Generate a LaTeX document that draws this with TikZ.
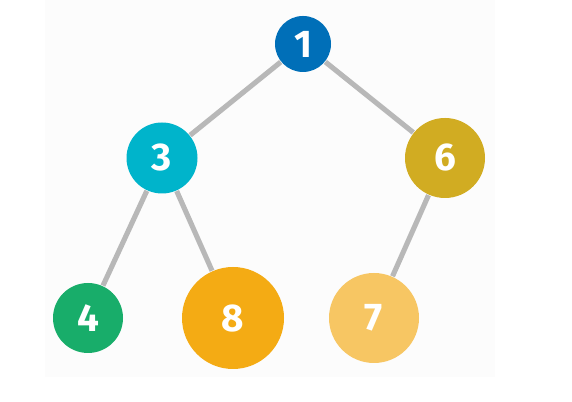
\documentclass[tikz,border=0pt]{standalone}
\usepackage{fontspec}
\setmainfont{Fira Sans}
\usepackage{xcolor}
\usetikzlibrary{positioning}

\definecolor{cOne}{HTML}{006FB8}
\definecolor{cThree}{HTML}{00B4CB}
\definecolor{cSix}{HTML}{D1AC22}
\definecolor{cFour}{HTML}{18AD6A}
\definecolor{cEight}{HTML}{F4AB14}
\definecolor{cSeven}{HTML}{F7C663}
\definecolor{edgegray}{HTML}{B8B8B8}

\tikzset{
	heapnode/.style={circle, inner sep=0pt, text=white,
		font=\fontsize{11}{13}\selectfont\bfseries},
	heapedge/.style={draw=edgegray, line width=1.45pt}
}

\begin{document}
\begin{tikzpicture}
		\useasboundingbox (0,0) rectangle (5.72,4.02);
		\fill[black!1] (0.45,0.25) rectangle (4.95,4.02);
		% 节点
		\node[heapnode, fill=cOne, minimum size=0.56cm] (n1) at (3.03,3.58) {1};
		\node[heapnode, fill=cThree, minimum size=0.71cm] (n3) at (1.62,2.44) {3};
		\node[heapnode, fill=cSix, minimum size=0.80cm] (n6) at (4.45,2.44) {6};
		\node[heapnode, fill=cFour, minimum size=0.70cm] (n4) at (0.88,0.84) {4};
		\node[heapnode, fill=cEight, minimum size=1.02cm] (n8) at (2.33,0.84) {8};
		\node[heapnode, fill=cSeven, minimum size=0.90cm] (n7) at (3.74,0.84) {7};
		% 连线
		\draw[heapedge] (n1) -- (n3);
		\draw[heapedge] (n1) -- (n6);
		\draw[heapedge] (n3) -- (n4);
		\draw[heapedge] (n3) -- (n8);
		\draw[heapedge] (n6) -- (n7);
	\end{tikzpicture}
\end{document}
